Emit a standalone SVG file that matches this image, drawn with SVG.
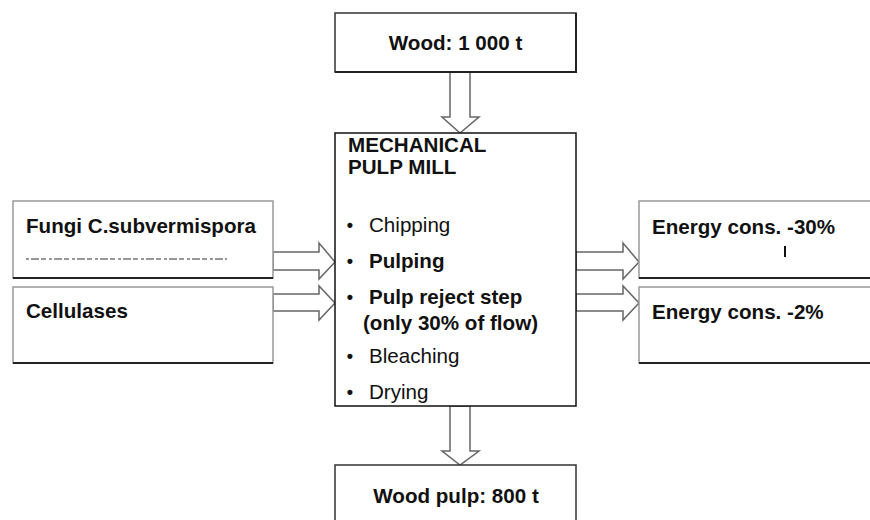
<svg xmlns="http://www.w3.org/2000/svg" width="870" height="520" viewBox="0 0 870 520">
<style>
text{font-family:"Liberation Sans",Arial,sans-serif;fill:#111}
.b{font-weight:bold;font-size:20.6px}
.r{font-size:20.6px}
.dot{font-size:18px;font-weight:bold}
.box{fill:#fff;stroke:#999;stroke-width:1.5}
.edge{stroke:#222;stroke-width:2;fill:none}
.arr{fill:#fff;stroke:#666;stroke-width:1.5;stroke-linejoin:miter}
</style>
<rect width="870" height="520" fill="#fff"/>
<g id="connectors">
<polygon class="arr" points="450,72 450,117 442,117 460,133 479,117 470,117 470,72"/>
<polygon class="arr" points="450,406 450,451 442,451 460,465 479,451 470,451 470,406"/>
<polygon class="arr" points="273,252 319,252 319,243 335,262 319,279 319,270 273,270"/>
<polygon class="arr" points="273,294 319,294 319,286 335,303 319,320 319,311 273,311"/>
<polygon class="arr" points="576,252 623,252 623,243 639,262 623,279 623,270 576,270"/>
<polygon class="arr" points="576,294 623,294 623,286 639,303 623,320 623,311 576,311"/>
</g>
<g id="wood">
<rect x="335" y="13" width="241" height="59" fill="#fff" stroke="#333" stroke-width="1.5"/>
<path class="edge" d="M335,72 H576 V13"/>
<text class="b" x="455.5" y="50" text-anchor="middle">Wood: 1 000 t</text>
</g>
<g id="mill">
<rect x="335" y="133" width="241" height="273" fill="#fff" stroke="#111" stroke-width="1.5"/>
<text class="b" x="348" y="152">MECHANICAL</text>
<text class="b" x="348" y="174">PULP MILL</text>
<text class="dot" x="350" y="231" text-anchor="middle">•</text>
<text class="r" x="369" y="232" fill="#333">Chipping</text>
<text class="dot" x="350" y="267" text-anchor="middle">•</text>
<text class="b" x="369" y="268">Pulping</text>
<text class="dot" x="350" y="303" text-anchor="middle">•</text>
<text class="b" x="369" y="304">Pulp reject step</text>
<text class="b" x="363" y="330">(only 30% of flow)</text>
<text class="dot" x="350" y="362" text-anchor="middle">•</text>
<text class="r" x="369" y="363">Bleaching</text>
<text class="dot" x="350" y="398" text-anchor="middle">•</text>
<text class="r" x="369" y="399">Drying</text>
</g>
<g id="fungi">
<rect class="box" x="13" y="201" width="260" height="77"/>
<path class="edge" d="M13,278 H273"/>
<text class="b" x="26" y="233">Fungi C.subvermispora</text>
<path d="M26,259 H227" stroke="#777" stroke-width="1.5" stroke-dasharray="3 2 8 2 5 3"/>
</g>
<g id="cellulases">
<rect class="box" x="13" y="287" width="260" height="76"/>
<path class="edge" d="M13,363 H273"/>
<text class="b" x="26" y="318">Cellulases</text>
</g>
<g id="energy30">
<rect class="box" x="639" y="201" width="240" height="77"/>
<path class="edge" d="M639,278 H870"/>
<text class="b" x="652" y="234">Energy cons. -30%</text>
<path d="M785,246 V257" stroke="#111" stroke-width="2"/>
</g>
<g id="energy2">
<rect class="box" x="639" y="287" width="240" height="76"/>
<path class="edge" d="M639,363 H870"/>
<text class="b" x="652" y="319">Energy cons. -2%</text>
</g>
<g id="woodpulp">
<rect x="335" y="465" width="241" height="70" fill="#fff" stroke="#333" stroke-width="1.5"/>
<text class="b" x="456" y="503" text-anchor="middle">Wood pulp: 800 t</text>
</g>
</svg>
